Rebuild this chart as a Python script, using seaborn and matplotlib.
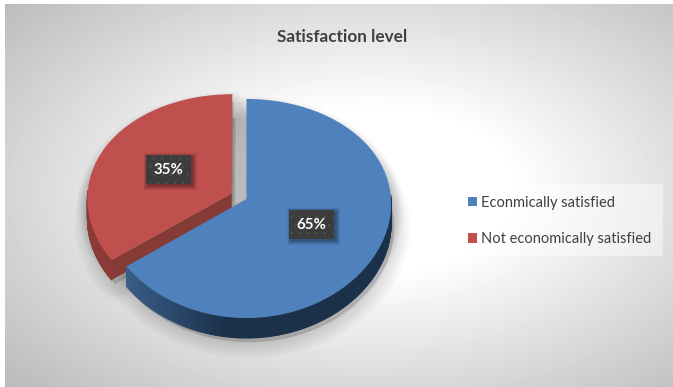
import numpy as np
import matplotlib
matplotlib.use("Agg")
import matplotlib.pyplot as plt
import seaborn as sns
from matplotlib.collections import PolyCollection
from matplotlib.colors import to_rgb
from matplotlib.patches import Patch, PathPatch, Polygon, Rectangle
from matplotlib.path import Path
from matplotlib.transforms import Affine2D, Transform

# Chart content
title = "Satisfaction level"
categories = ["Econmically satisfied", "Not economically satisfied"]
shares = [65, 35]
explode = [0, 0.115]
colors = sns.color_palette(["#4f81bd", "#c0504d"])
side_left = ["#3a608c", "#8a3b38"]
side_right = ["#1b3049", "#7e3532"]

W, H = 673, 387
DPI = 100
CX, CY = 246.5, 199    # pie centre, pixels from top-left
RX, RY = 144.5, 108.7  # radii of the tilted disc
TILT = 0.0868          # strength of the foreshortening
DEPTH = 20             # wall height, pixels

sns.set_theme(style="white")
plt.rcParams["font.family"] = ["Lato", "DejaVu Sans"]
plt.rcParams["hatch.linewidth"] = 0.5


class TiltedDisc(Transform):
    """Foreshortens the pie plane: points further back shrink."""
    input_dims = output_dims = 2
    is_separable = False
    has_inverse = False

    def transform_non_affine(self, values):
        v = np.asarray(values, dtype=float)
        s = 1 / (1 + TILT * v[:, 1])
        return np.column_stack([v[:, 0] * np.sqrt(s), v[:, 1] * s])


fig = plt.figure(figsize=(W / DPI, H / DPI), dpi=DPI, facecolor="white")


def px_box(x0, y0, x1, y1):
    return [x0 / W, 1 - y1 / H, (x1 - x0) / W, (y1 - y0) / H]


# Radial backdrop of the chart area
bg = fig.add_axes(px_box(5, 4, W, H))
bg.set_axis_off()
yy, xx = np.mgrid[4:H, 5:W]
r = np.hypot((xx - 370) / 336, (yy - 190) / 194)
shade = 1 - 0.255 * np.clip(r - 0.42, 0, None)
bg.imshow(shade, cmap="gray", vmin=0, vmax=1, aspect="auto", interpolation="bilinear")

# Pie axes: one data unit is RX pixels across and RY pixels up
SPAN = 1.5
ax = fig.add_axes(px_box(CX - SPAN * RX, CY - SPAN * RY, CX + SPAN * RX, CY + SPAN * RY))
ax.patch.set_alpha(0)
wedges, _, autotexts = ax.pie(
    shares, explode=explode, colors=colors, startangle=90, counterclock=False,
    autopct="%1.0f%%", pctdistance=0.5, radius=1,
)
ax.set_aspect("auto")
ax.set_xlim(-SPAN, SPAN)
ax.set_ylim(-SPAN, SPAN)
ax.set_axis_off()

tilt = TiltedDisc()
disc = tilt + ax.transData


def outline(w, n=240):
    t = np.radians(np.linspace(w.theta1, w.theta2, n))
    cx, cy = w.center
    return np.column_stack([cx + w.r * np.cos(t), cy + w.r * np.sin(t)]), t


def soft_shadow(path, transform, dx, dy, blur, strength, z):
    # Stacked translucent strokes build a soft falloff around a shape
    offset = transform + Affine2D().translate(dx, -dy)
    for lw in np.linspace(blur, 1, 12):
        ax.add_patch(PathPatch(
            path, transform=offset, facecolor="black", edgecolor="black",
            alpha=strength, lw=lw, joinstyle="round", capstyle="round", zorder=z, clip_on=False,
        ))


# Shadows fall below and to the right of the pie
for w in wedges:
    arc, _ = outline(w)
    closed = Path(np.vstack([arc, w.center, arc[0]]), closed=False)
    soft_shadow(closed, disc, 3, DEPTH + 4, 24, 0.011, 0.5)
    soft_shadow(closed, disc, 1, 8, 16, 0.013, 0.5)

# Walls first, then the top face, red slice behind the blue one
for z, idx in ((1, 1), (3, 0)):
    w = wedges[idx]
    arc, theta = outline(w)
    disp = ax.transData.transform(tilt.transform_non_affine(arc))
    lo = disp - [0, DEPTH]
    front = np.sin(theta[:-1]) < 0.03      # only the near half of the rim shows
    quads = [np.array([disp[i], disp[i + 1], lo[i + 1], lo[i]])
             for i in range(len(disp) - 1) if front[i]]
    mix = np.clip((disp[:-1, 0][front] - (CX - 125)) / 105, 0, 1)[:, None]
    face = (1 - mix) * np.array(to_rgb(side_left[idx])) + mix * np.array(to_rgb(side_right[idx]))
    ax.add_collection(PolyCollection(quads, facecolors=face, edgecolors=face, linewidths=0.7,
                                     transform=Affine2D(), zorder=z))
    # The red slice's straight cut turns toward the viewer
    if idx == 1:
        ends = tilt.transform_non_affine(np.array([w.center, arc[-1]]))
        e = ax.transData.transform(ends)
        ax.add_patch(Polygon([e[0], e[1], e[1] - [0, DEPTH], e[0] - [0, DEPTH]],
                             closed=True, transform=Affine2D(), facecolor="#853a36",
                             edgecolor="none", zorder=z + 0.5))
    w.set_transform(disc)
    w.set_zorder(z + 1)
    w.set_edgecolor("none")

# Percent labels on dark speckled plates
for t, w in zip(autotexts, wedges):
    cx, cy = ax.transData.transform(tilt.transform_non_affine(np.array([t.get_position()])))[0]
    t.set_transform(disc + Affine2D().translate(0, -1))
    t.set_color("white")
    t.set_fontweight("bold")
    t.set_fontsize(10.8)
    t.set_zorder(8)
    t.set_ha("center")
    t.set_va("center")
    for grow in np.linspace(8, 0, 8):
        ax.add_patch(Rectangle((cx - 22.5 + 2 - grow / 2, cy - 14.5 - 2 - grow / 2), 45 + grow, 29 + grow,
                               transform=Affine2D(), facecolor="black", edgecolor="none",
                               alpha=0.05, zorder=6))
    ax.add_patch(Rectangle((cx - 22.5, cy - 14.5), 45, 29, transform=Affine2D(), facecolor="#3c3c3c",
                           edgecolor="#4e4e4e", lw=0, hatch="..", zorder=7))

fig.text(342 / W, 1 - 36.5 / H, title, ha="center", va="center", fontsize=12.3,
         fontweight="bold", color="#404040")

# Legend plate and entries
fig.add_artist(Rectangle((458 / W, 1 - 256 / H), 205 / W, 72 / H, transform=fig.transFigure,
                         facecolor="white", alpha=0.45, edgecolor="none"))
handles = [Patch(facecolor=c, edgecolor="none") for c in colors]
fig.legend(handles, categories, loc="center left", bbox_to_anchor=(468 / W, 1 - 221 / H),
           frameon=False, fontsize=10.5, labelcolor="#404040", handlelength=0.62, handleheight=0.62,
           handletextpad=0.27, labelspacing=1.55, borderpad=0, borderaxespad=0)

fig.savefig("out.png", dpi=DPI)
